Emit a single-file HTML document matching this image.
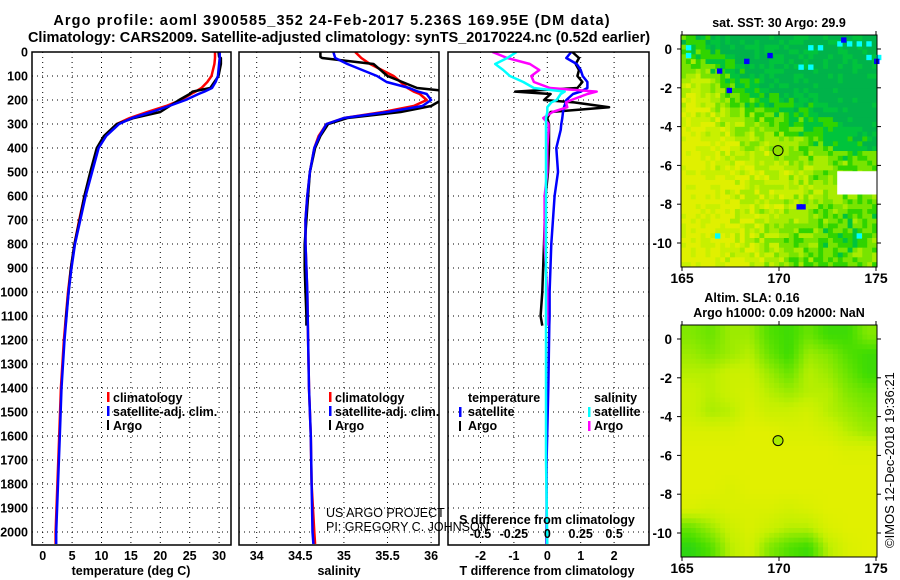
<!DOCTYPE html>
<html><head><meta charset="utf-8"><style>
html,body{margin:0;padding:0;background:#fff;}
svg{display:block;font-family:"Liberation Sans",sans-serif;}
.b{font-weight:bold;font-size:12.5px;}
.t{font-weight:bold;font-size:14.5px;}
</style></head><body>
<svg id="fig" width="900" height="580" viewBox="0 0 900 580">
<rect width="900" height="580" fill="#fff"/>
<text class="t" x="332" y="25" text-anchor="middle" letter-spacing="1.1">Argo profile: aoml 3900585_352 24-Feb-2017 5.236S 169.95E (DM data)</text>
<text class="t" x="339" y="42" text-anchor="middle">Climatology: CARS2009. Satellite-adjusted climatology: synTS_20170224.nc (0.52d earlier)</text>
<g id="grids"></g>
<g id="marks"></g>
<g id="maps"></g>
<g id="frames"></g>
<g id="labels" class="b"></g>
<text class="b" x="131" y="575" text-anchor="middle">temperature (deg C)</text>
<text class="b" x="339" y="575" text-anchor="middle">salinity</text>
<text class="b" x="547" y="575" text-anchor="middle">T difference from climatology</text>
<text class="b" x="547" y="524" text-anchor="middle">S difference from climatology</text>
<g class="b">
<rect x="107" y="392" width="2.5" height="10" fill="#f00"/>
<text x="113" y="402">climatology</text>
<rect x="107" y="406" width="2.5" height="10" fill="#00f"/>
<text x="113" y="416">satellite-adj. clim.</text>
<rect x="107" y="420" width="2" height="10" fill="#000"/>
<text x="113" y="430">Argo</text>
</g>
<g class="b">
<rect x="329" y="392" width="2.5" height="10" fill="#f00"/>
<text x="335" y="402">climatology</text>
<rect x="329" y="406" width="2.5" height="10" fill="#00f"/>
<text x="335" y="416">satellite-adj. clim.</text>
<rect x="329" y="420" width="2" height="10" fill="#000"/>
<text x="335" y="430">Argo</text>
</g>
<g class="b">
<text x="468" y="402">temperature</text>
<rect x="459" y="407" width="2.5" height="10" fill="#00f"/>
<text x="468" y="416">satellite</text>
<rect x="459" y="421" width="2" height="10" fill="#000"/>
<text x="468" y="430">Argo</text>
<text x="594" y="402">salinity</text>
<rect x="588" y="407" width="2.5" height="10" fill="#0ff"/>
<text x="594" y="416">satellite</text>
<rect x="588" y="421" width="2.5" height="10" fill="#f0f"/>
<text x="594" y="430">Argo</text>
</g>
<text x="326" y="517" font-size="12.5" fill="#000">US ARGO PROJECT</text>
<text x="326" y="531" font-size="12.5" fill="#000">PI: GREGORY C. JOHNSON</text>
<text class="b" x="779" y="27" text-anchor="middle">sat. SST: 30 Argo: 29.9</text>
<text class="b" x="752" y="302" text-anchor="middle">Altim. SLA: 0.16</text>
<text class="b" x="779" y="317" text-anchor="middle">Argo h1000: 0.09 h2000: NaN</text>
<text x="0" y="0" font-size="13" transform="translate(894,548) rotate(-90)">©IMOS 12-Dec-2018 19:36:21</text>
</svg>
<script>
// ---- data ----
const depthClim = [0,25,50,100,125,150,165,175,200,225,250,275,300,350,400,500,600,700,800,900,1000,1200,1400,1600,1800,2000,2050];
const climT = [29.3,29.3,29.2,28.7,28.0,27.0,26.0,25.2,23.5,21,17.8,14.8,12.6,10.5,9.3,8.2,7.1,6.2,5.4,4.8,4.3,3.6,3.1,2.8,2.5,2.2,2.2];
const satT  = [30.1,30.1,30.0,29.8,29.4,28.8,27.5,26.5,24.3,21.5,18.5,15.2,13.0,10.8,9.5,8.4,7.3,6.4,5.5,4.9,4.4,3.7,3.2,2.9,2.6,2.3,2.3];
const climS = [35.13,35.2,35.3,35.57,35.65,35.73,35.8,35.87,35.95,35.8,35.45,35.0,34.8,34.71,34.66,34.61,34.58,34.56,34.56,34.57,34.58,34.59,34.6,34.62,34.63,34.66,34.67];
const satS  = [34.88,34.9,35.04,35.38,35.49,35.75,35.85,35.95,36.0,35.9,35.5,35.0,34.8,34.72,34.66,34.61,34.58,34.56,34.56,34.57,34.58,34.59,34.6,34.62,34.63,34.64,34.65];
const depthArgo = [0,20,25,50,100,150,160,165,175,200,225,250,275,300,350,400,500,600,700,800,900,1000,1100,1140];
const argoT = [29.9,30.0,30.3,30.3,29.9,28.5,26.5,25.5,25,23.2,21.6,20,15.5,12.6,10.4,9.2,8.1,7.1,6.3,5.4,4.8,4.4,4.0,3.9];
const argoS = [34.73,34.73,34.75,35.34,35.5,35.84,36.1,36.15,36.15,36.12,36.0,35.65,35.04,34.82,34.73,34.67,34.61,34.59,34.57,34.55,34.55,34.56,34.57,34.57];
const depthDiff = [0,25,50,75,100,125,150,165,175,200,210,230,250,275,300,325,400,500,600,800,1000,1100,1140,1400,1700,2050];
const dTsat  = [0.72,0.57,0.88,1.0,1.06,1.2,1.2,1.0,0.77,0.57,0.55,0.5,0.47,0.45,0.42,0.4,0.27,0.32,0.22,0.12,0.07,0.07,0.06,0.03,-0.02,-0.02];
const dTargo = [0.75,0.95,0.85,0.95,0.9,1.05,0.9,-0.96,0.1,-0.1,0.8,1.85,0.1,0.0,0.05,0.05,0.05,0.02,-0.05,-0.1,-0.15,-0.2,-0.15,null,null,null];
const dSsat  = [-0.23,-0.3,-0.39,-0.33,-0.28,-0.18,-0.1,0.13,0.1,0.07,0.03,0.0,0.0,-0.01,-0.01,-0.01,-0.01,-0.01,-0.01,-0.01,-0.01,-0.01,-0.01,-0.01,-0.01,0.0];
const dSargo = [-0.41,-0.3,-0.13,-0.06,-0.12,-0.1,0.02,0.37,0.3,0.18,0.14,0.15,0.04,-0.03,0.01,0.01,0.0,0.0,-0.02,-0.02,0.0,0.0,0.0,null,null,null];
const depthTicks = [0,100,200,300,400,500,600,700,800,900,1000,1100,1200,1300,1400,1500,1600,1700,1800,1900,2000];
const tempTicks = [0,5,10,15,20,25,30];
const salTicks = [34,34.5,35,35.5,36];
const salTickLabels = ['34','34.5','35','35.5','36'];
const dTTicks = [-2,-1,0,1,2];
const dSTicks = [-0.5,-0.25,0,0.25,0.5];
const dSTickLabels = ['-0.5','-0.25','0','0.25','0.5'];
const lonTicks = [165,170,175];
const latTicks = [0,-2,-4,-6,-8,-10];
const argoLon = 169.95, argoLat = -5.236;
const sstGrid = [
[0.7,0.75,0.9,0.9,0.9,0.9,0.9,0.9,0.9,0.9],
[0.5,0.6,0.8,0.9,0.9,0.9,0.9,0.9,0.9,0.9],
[0.2,0.35,0.6,0.8,0.85,0.9,0.9,0.95,0.95,0.95],
[0.1,0.25,0.45,0.6,0.7,0.8,0.85,0.9,1,1],
[0.05,0.15,0.3,0.4,0.5,0.6,0.7,0.8,0.9,1],
[0.0,0.1,0.2,0.3,0.35,0.45,0.55,0.65,0.8,0.85],
[0.0,0.05,0.15,0.2,0.25,0.3,0.35,0.4,0.55,0.55],
[0.0,0.05,0.1,0.2,0.3,0.25,0.35,0.45,0.5,0.45],
[0,0.05,0.1,0.2,0.25,0.25,0.35,0.45,0.45,0.45],
[0,0.05,0.1,0.2,0.25,0.35,0.4,0.55,0.55,0.55],
[0.05,0.1,0.15,0.2,0.35,0.45,0.55,0.65,0.7,0.55],
[0.0,0.05,0.1,0.2,0.3,0.45,0.5,0.55,0.55,0.45]];
const slaGrid = [
[0.5,0.6,0.4,0.4,0.7,0.8,0.6,0.8,0.8,0.5],
[0.4,0.5,0.4,0.3,0.6,0.8,0.4,0.5,0.7,0.8],
[0.3,0.3,0.2,0.2,0.4,0.6,0.3,0.4,0.6,0.8],
[0.2,0.3,0.2,0.15,0.3,0.4,0.3,0.3,0.5,0.6],
[0.2,0.35,0.3,0.1,0.2,0.2,0.15,0.3,0.4,0.5],
[0.1,0.1,0.1,0.05,0.05,0.1,0.1,0.15,0.3,0.4],
[0.05,0.05,0.05,0.05,0.05,0.05,0.05,0.05,0.1,0.1],
[0.05,0.05,0.05,0.05,0.05,0.05,0.05,0.05,0.05,0.05],
[0.05,0.05,0.1,0.05,0.05,0.05,0.05,0.05,0.05,0.05],
[0.1,0.15,0.1,0.1,0.1,0.15,0.1,0.05,0.05,0.05],
[0.6,0.4,0.2,0.1,0.2,0.3,0.3,0.1,0.05,0.05],
[0.9,0.7,0.3,0.15,0.5,0.7,0.8,0.3,0.1,0.05]];
const sstCyan = [[173.0,0.4],[173.5,0.4],[174.0,0.4],[174.5,0.4],[172.0,0.2],[171.5,0.2],[175,-0.3],[174.5,-0.3],[171.0,-0.8],[171.5,-0.8],[165.2,0.2],[165.2,-0.2],[174.3,-6.8],[174.3,-7.2],[166.7,-9.5],[174.0,-9.5]];
const sstBlue = [[173.2,0.6],[169.4,-0.2],[168.2,-0.5],[166.8,-1.0],[167.3,-2.0],[170.9,-8.0],[171.1,-8.0],[174.9,-0.5]];
const sstWhite = [[173.0,-6.3,175.0,-7.5]];

const NS='http://www.w3.org/2000/svg';
function mk(tag, attrs, parent){const e=document.createElementNS(NS,tag);for(const k in attrs)e.setAttribute(k,attrs[k]);parent.appendChild(e);return e;}
const G=document.getElementById('grids'),M=document.getElementById('marks'),F=document.getElementById('frames'),L=document.getElementById('labels'),MP=document.getElementById('maps');

const yD=d=>52+d*0.24;
const xT=t=>42.7+t*5.88;
const xS=s=>256.7+(s-34)*87.2;
const xdT=t=>547.3+t*33.4;
const xdS=s=>547.3+s*133.6;
const panels=[[32,231],[239,439],[448,649]];
const PY0=52,PY1=545;

function vgrid(x){const l=mk('line',{x1:x,x2:x,y1:PY0,y2:PY1,stroke:'#000','stroke-width':1,'stroke-dasharray':'1,4'},G);

}
panels.forEach(p=>{depthTicks.forEach(d=>{if(d===0)return;const l=mk('line',{x1:p[0],x2:p[1],y1:yD(d),y2:yD(d),stroke:'#000','stroke-width':1,'stroke-dasharray':'1,4'},G);

});});
tempTicks.forEach(t=>vgrid(xT(t)));
salTicks.forEach(s=>vgrid(xS(s)));
dTTicks.forEach(t=>vgrid(xdT(t)));

function line(depths, vals, xf, color, w, name){
  let segs=[],cur=[];
  depths.forEach((d,i)=>{const v=vals[i];if(v===null||v===undefined){if(cur.length)segs.push(cur);cur=[];}else cur.push(xf(v).toFixed(1)+','+yD(d).toFixed(1));});
  if(cur.length)segs.push(cur);
  segs.forEach(s=>{const p=mk('polyline',{points:s.join(' '),fill:'none',stroke:color,'stroke-width':w,'stroke-linejoin':'round'},M);
  
  });
}
line(depthClim,climT,xT,'#f00',2.5,'climatology-temperature-line');
line(depthArgo,argoT,xT,'#000',2.5,'argo-temperature-line');
line(depthClim,satT,xT,'#00f',2.5,'satellite-temperature-line');
line(depthClim,climS,xS,'#f00',2.5,'climatology-salinity-line');
line(depthArgo,argoS,xS,'#000',2.5,'argo-salinity-line');
line(depthClim,satS,xS,'#00f',2.5,'satellite-salinity-line');
line(depthDiff,dTargo,xdT,'#000',2.5,'argo-temperature-difference-line');
line(depthDiff,dTsat,xdT,'#00f',2.5,'satellite-temperature-difference-line');
line(depthDiff,dSargo,xdS,'#f0f',2.5,'argo-salinity-difference-line');
line(depthDiff,dSsat,xdS,'#0ff',2.5,'satellite-salinity-difference-line');

M.setAttribute('clip-path','url(#pclip)');
const defs=mk('defs',{},document.getElementById('fig'));
const cp=mk('clipPath',{id:'pclip'},defs);
panels.forEach(p=>mk('rect',{x:p[0],y:PY0,width:p[1]-p[0],height:PY1-PY0},cp));

panels.forEach((p,i)=>{const r=mk('rect',{x:p[0],y:PY0,width:p[1]-p[0],height:PY1-PY0,fill:'none',stroke:'#000','stroke-width':1.5},F);

});

function txt(x,y,s,anchor,name){const t=mk('text',{x:x,y:y,'text-anchor':anchor},L);t.textContent=s;

return t;}
depthTicks.forEach(d=>txt(28,yD(d)+4.5,String(d),'end','depth-tick-label'));
tempTicks.forEach(t=>txt(xT(t),560,String(t),'middle','temperature-tick-label'));
salTicks.forEach((s,i)=>txt(xS(s),560,salTickLabels[i],'middle','salinity-tick-label'));
dTTicks.forEach(t=>txt(xdT(t),560,String(t),'middle','t-difference-tick-label'));
dSTicks.forEach((s,i)=>txt(xdS(s),538,dSTickLabels[i],'middle','s-difference-tick-label'));

const MX0=681,MX1=877;
const lonX=lon=>682+(lon-165)*19.4;
const maps=[{y0:35,y1:267,lat0:49,grid:sstGrid,name:'sst-map'},{y0:325,y1:557,lat0:339,grid:slaGrid,name:'sla-map'}];
function sstColor(v){if(v<0.12)return'#e0f000';if(v<0.25)return'#c8f000';if(v<0.4)return'#a8ec00';if(v<0.55)return'#78e400';if(v<0.7)return'#30d400';if(v<0.85)return'#00c43c';return'#00b34a';}
function lerpC(a,b,t){return a.map((x,i)=>Math.round(x+(b[i]-x)*t));}
const slaStops=[[232,240,0],[196,240,0],[130,232,0],[70,222,0],[30,208,30]];
function slaColor(v){v=Math.max(0,Math.min(0.999,v));const s=v*4,i=Math.floor(s);const c=lerpC(slaStops[i],slaStops[i+1],s-i);return'rgb('+c.join(',')+')';}
function sample(grid,fx,fy){
  const x=Math.max(0,Math.min(9,fx-0.5)),y=Math.max(0,Math.min(11,fy-0.5));
  const c0=Math.floor(x),r0=Math.floor(y),c1=Math.min(9,c0+1),r1=Math.min(11,r0+1),tx=x-c0,ty=y-r0;
  return grid[r0][c0]*(1-tx)*(1-ty)+grid[r0][c1]*tx*(1-ty)+grid[r1][c0]*(1-tx)*ty+grid[r1][c1]*tx*ty;
}
function texture(r,c){let h=(r*374761393+c*668265263)>>>0;h=((h^(h>>>13))*1274126177)>>>0;h=(h^(h>>>16))>>>0;return (h%1000)/1000-0.5;}
maps.forEach((m,mi)=>{
  const latY=lat=>m.lat0-lat*19.4;
  const g=mk('g',{},MP);
  
  
  const ncol=40,nrow=48,cw=(MX1-MX0)/ncol,ch=(m.y1-m.y0)/nrow;
  for(let r=0;r<nrow;r++)for(let c=0;c<ncol;c++){
    const fx=(c+0.5)/4,fy=(r+0.5)/4;
    let v=sample(m.grid,fx,fy);
    let col;
    if(mi===0){v+=texture(r,c)*0.35;col=sstColor(v);}
    else col=slaColor(v);
    const cell=mk('rect',{x:(MX0+c*cw).toFixed(2),y:(m.y0+r*ch).toFixed(2),width:(cw+0.4).toFixed(2),height:(ch+0.4).toFixed(2),fill:col},g);
    
    
  }
  if(mi===0){
    sstCyan.forEach(p=>{const q=mk('rect',{x:lonX(p[0]),y:latY(p[1]),width:cw+0.5,height:ch+0.5,fill:'#0ff'},g);
    
    });
    sstBlue.forEach(p=>{const q=mk('rect',{x:lonX(p[0]),y:latY(p[1]),width:cw+0.5,height:ch+0.5,fill:'#00f'},g);
    
    });
    sstWhite.forEach(p=>{const q=mk('rect',{x:lonX(p[0]),y:latY(p[1]),width:lonX(p[2])-lonX(p[0])+1,height:latY(p[3])-latY(p[1]),fill:'#fff'},g);
    
    });
  }
  const dot=mk('circle',{cx:lonX(argoLon),cy:latY(argoLat),r:5,fill:mi===0?'#90e000':'#a8ec00',stroke:'#000','stroke-width':1},g);
  
  
  const fr=mk('rect',{x:MX0,y:m.y0,width:MX1-MX0,height:m.y1-m.y0,fill:'none',stroke:'#000','stroke-width':1},g);
  
  
  lonTicks.forEach(lon=>{
    const tk=mk('line',{x1:lonX(lon),x2:lonX(lon),y1:m.y1,y2:m.y1+4,stroke:'#000'},g);
    
    
    const tk2=mk('line',{x1:lonX(lon),x2:lonX(lon),y1:m.y0,y2:m.y0-4,stroke:'#000'},g);
    
    
    txt(lonX(lon),m.y1+16,String(lon),'middle','longitude-tick-label').setAttribute('font-size','14');
  });
  latTicks.forEach(lat=>{
    const tk=mk('line',{x1:MX0-4,x2:MX0,y1:latY(lat),y2:latY(lat),stroke:'#000'},g);
    
    
    const tk2=mk('line',{x1:MX1,x2:MX1+4,y1:latY(lat),y2:latY(lat),stroke:'#000'},g);
    
    
    txt(672,latY(lat)+5,String(lat),'end','latitude-tick-label').setAttribute('font-size','13.5');
  });
});
</script>
</body></html>
